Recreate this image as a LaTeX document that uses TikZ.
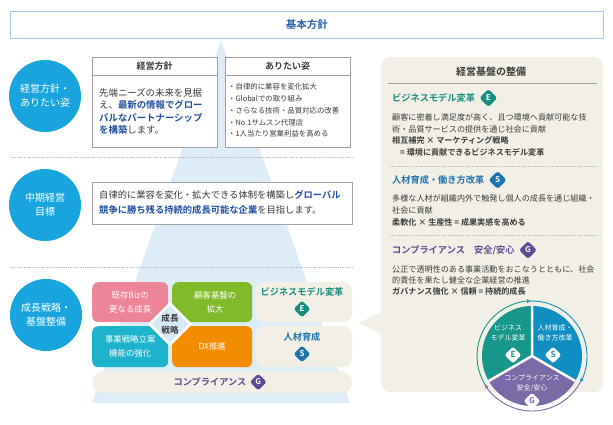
\documentclass[tikz,border=0pt]{standalone}
\usepackage{fontspec}
\setmainfont{Noto Sans CJK JP}[BoldFont={Noto Sans CJK JP Bold}]
\usetikzlibrary{arrows.meta,positioning,shapes.geometric}
\definecolor{ktext}{HTML}{3A3A3A}
\definecolor{kblue}{HTML}{2A62AC}
\definecolor{kframe}{HTML}{A9C8E8}
\definecolor{kcyan}{HTML}{18A4DD}
\definecolor{ktri}{HTML}{DCEDF8}
\definecolor{kgray}{HTML}{A0A0A0}
\definecolor{kemph}{HTML}{1F50A0}
\definecolor{kbeige}{HTML}{F2EFE6}
\definecolor{kpink}{HTML}{EC8597}
\definecolor{kgreen}{HTML}{80BB2A}
\definecolor{kaqua}{HTML}{1CB4CB}
\definecolor{korange}{HTML}{F28D00}
\definecolor{kcore}{HTML}{D6EAF6}
\definecolor{ke}{HTML}{178D82}
\definecolor{ks}{HTML}{1C74AD}
\definecolor{kg}{HTML}{5B4B90}
\definecolor{pe}{HTML}{17978B}
\definecolor{ps}{HTML}{0F8FC1}
\definecolor{pg}{HTML}{7A6AA7}
\newcommand{\kem}[1]{\textcolor{kemph}{\textbf{#1}}}

\begin{document}
\begin{tikzpicture}[x=1pt,y=-1pt,
		lab/.style={inner sep=0pt,text=ktext,align=left,anchor=west,font=\fontsize{8.1}{11.4}\selectfont},
		circ/.style={circle,fill=kcyan,minimum size=72,inner sep=0pt,text=white,align=center,font=\fontsize{10}{14}\selectfont},
		wbox/.style={draw=kgray,fill=white,line width=0.7pt,inner sep=0pt,anchor=north west},
		tile/.style={rounded corners=6,inner sep=0pt,anchor=north west,text=white,align=center,font=\fontsize{8.4}{14}\selectfont},
		pill/.style={fill=kbeige,inner sep=0pt,anchor=north west},
		badge/.style={diamond,aspect=1,rounded corners=2.5,inner sep=0pt,minimum size=18,text=white,font=\fontsize{8}{8}\selectfont\bfseries},
		sect/.style={inner sep=0pt,anchor=west,font=\fontsize{9.2}{11}\selectfont\bfseries},
		sep/.style={kgray!70,densely dotted,line width=0.7pt},
		cyc/.style={line width=0.9pt,-{Latex[length=4pt,width=4pt]}}
		]
		\useasboundingbox (0,0) rectangle (613,424);
		
		% --- Pyramid behind the left part
		\fill[ktri] (221,40) -- (350,403) -- (92,403) -- cycle;
		
		% --- Top frame
		\node[draw=kframe,line width=0.9pt,fill=white,minimum width=593,minimum height=27,inner sep=0pt,anchor=north west] (kihon) at (10,11) {};
		\node[text=kblue,font=\fontsize{10.5}{12}\selectfont\bfseries,inner sep=0pt] (kihontxt) at (kihon.center) {基本方針};
		
		% --- Left circles
		\node[circ] (c1) at (45,96) {経営方針・\\ありたい姿};
		\node[circ] (c2) at (45,205) {中期経営\\目標};
		\node[circ] (c3) at (46,315) {成長戦略・\\基盤整備};
		
		\draw[sep] (10,157) -- (352,157);
		\draw[sep] (10,267) -- (352,267);
		
		% --- Row 1
		\node[wbox,minimum width=125,minimum height=90] (hoshin) at (92,57) {};
		\node[wbox,minimum width=125,minimum height=90] (sugata) at (225,57) {};
		\draw[kgray,line width=0.7pt] ([yshift=-18pt]hoshin.north west) -- ([yshift=-18pt]hoshin.north east);
		\draw[kgray,line width=0.7pt] ([yshift=-18pt]sugata.north west) -- ([yshift=-18pt]sugata.north east);
		\node[text=ktext,font=\fontsize{9}{10}\selectfont\bfseries,inner sep=0pt] (hoshinhd) at (154.5,66) {経営方針};
		\node[text=ktext,font=\fontsize{9}{10}\selectfont\bfseries,inner sep=0pt] (sugatahd) at (287.5,66) {ありたい姿};
		\node[lab,font=\fontsize{9.4}{12.4}\selectfont] (hoshintxt) at (99,111.5) {先端ニーズの未来を見据\\え、\kem{最新の情報でグロー}\\\kem{バルなパートナーシップ}\\\kem{を構築}します。};
		\node[lab,font=\fontsize{7.4}{11.8}\selectfont] (sugatatxt) at (228,110.5) {・自律的に業容を変化拡大\\・Globalでの取り組み\\・さらなる技術・品質対応の改善\\・No.1サムスン代理店\\・1人当たり営業利益を高める};
		
		% --- Row 2
		\node[wbox,minimum width=260,minimum height=42] (mokuhyo) at (92,182) {};
		\node[lab,font=\fontsize{9.3}{15}\selectfont] (mokuhyotxt) at (99,202.5) {自律的に業容を変化・拡大できる体制を構築し\kem{グローバル}\\\kem{競争に勝ち残る持続的成長可能な企業}を目指します。};
		
		% --- Row 3: growth strategy tiles
		\node[tile,fill=kpink,minimum width=76,minimum height=40] (kison) at (92,282) {既存Bizの\\更なる成長};
		\node[tile,fill=kgreen,minimum width=80,minimum height=40] (kokyaku) at (172,282) {\hspace{6pt}顧客基盤の\\\hspace{6pt}拡大};
		\node[tile,fill=kaqua,minimum width=76,minimum height=41] (jigyo) at (92,326) {事業戦略立案\\機能の強化};
		\node[tile,fill=korange,minimum width=80,minimum height=41] (dx) at (172,326) {DX推進};
		\node[diamond,aspect=1,fill=kcore,draw=white,line width=2.5pt,minimum size=42,inner sep=0pt,align=center,text=ktext,font=\fontsize{8.6}{12}\selectfont\bfseries] (core) at (170,324) {成長\\戦略};
		
		\node[pill,rounded corners=9,minimum width=97,minimum height=40] (bm) at (255,282) {};
		\node[pill,rounded corners=9,minimum width=97,minimum height=41] (jinzai) at (255,326) {};
		\node[pill,rounded corners=11,minimum width=260,minimum height=22] (comp) at (92,371) {};
		\node[sect,anchor=center,text=ke] (bmtxt) at (302,292) {ビジネスモデル変革};
		\node[badge,fill=ke,minimum size=17] (bmb) at (302,309) {E};
		\node[sect,anchor=center,text=ks] (jinzaitxt) at (302,337) {人材育成};
		\node[badge,fill=ks,minimum size=17] (jinzaib) at (302,354) {S};
		\node[sect,anchor=center,text=kg] (comptxt) at (210,382) {コンプライアンス};
		\node[badge,fill=kg,minimum size=17,right=3pt of comptxt] (compb) {G};
		
		% --- Right panel
		\node[pill,rounded corners=9,minimum width=222,minimum height=335] (panel) at (381,57) {};
		\coordinate (tip) at (358,323);
		\fill[kbeige] (tip) -- (382,312) -- (382,334) -- cycle;
		\node[text=ktext,font=\fontsize{10}{12}\selectfont\bfseries,inner sep=0pt] (paneltxt) at (491,72) {経営基盤の整備};
		\draw[kgray,line width=0.9pt] (388,83) -- (597,83);
		
		\node[sect,text=ke] (ehd) at (392,98) {ビジネスモデル変革};
		\node[badge,fill=ke,right=4pt of ehd] (eb) {E};
		\node[lab] (etxt) at (392,135) {顧客に密着し満足度が高く、且つ環境へ貢献可能な技\\術・品質サービスの提供を通じ社会に貢献\\\textbf{相互補完 × マーケティング戦略}\\\hspace{8pt}\textbf{= 環境に貢献できるビジネスモデル変革}};
		\draw[sep] (390,166) -- (597,166);
		
		\node[sect,text=ks] (shd) at (392,180) {人材育成・働き方改革};
		\node[badge,fill=ks,right=4pt of shd] (sb) {S};
		\node[lab,font=\fontsize{8.1}{12}\selectfont] (stxt) at (392,210) {多様な人材が組織内外で触発し個人の成長を通じ組織・\\社会に貢献\\\textbf{柔軟化 × 生産性 = 成果実感を高める}};
		\draw[sep] (390,235) -- (597,235);
		
		\node[sect,text=kg] (ghd) at (392,250) {コンプライアンス\quad 安全/安心};
		\node[badge,fill=kg,right=4pt of ghd] (gb) {G};
		\node[lab,font=\fontsize{8.1}{11}\selectfont] (gtxt) at (392,280) {公正で透明性のある事業活動をおこなうとともに、社会\\的責任を果たし健全な企業経営の推進\\\textbf{ガバナンス強化 × 信頼 = 持続的成長}};
		
		% --- Cycle
		\begin{scope}[shift={(532,356)},y=1pt]
			\fill[pe] (0,0) -- (90:50) arc[start angle=90,end angle=210,radius=50] -- cycle;
			\fill[ps] (0,0) -- (-30:50) arc[start angle=-30,end angle=90,radius=50] -- cycle;
			\fill[pg] (0,0) -- (210:50) arc[start angle=210,end angle=330,radius=50] -- cycle;
			\draw[white,line width=2.5pt] (0,0) -- (90:50) (0,0) -- (210:50) (0,0) -- (-30:50);
			\draw[cyc,pe] (212:55) arc[start angle=212,end angle=91,radius=55];
			\draw[cyc,ps] (92:55) arc[start angle=92,end angle=-29,radius=55];
			\draw[cyc,pg] (-28:55) arc[start angle=-28,end angle=-149,radius=55];
			\node[text=white,align=center,font=\fontsize{7}{10}\selectfont] (pet) at (-24,23) {ビジネス\\モデル変革};
			\node[text=white,align=center,font=\fontsize{7}{10}\selectfont] (pst) at (23,23) {人材育成・\\働き方改革};
			\node[text=white,align=center,font=\fontsize{7}{10}\selectfont] (pgt) at (0,-27) {コンプライアンス\\安全/安心};
			\node[badge,fill=white,text=pe,minimum size=17] (peb) at (-19,1) {E};
			\node[badge,fill=white,text=ps,minimum size=17] (psb) at (21,1) {S};
			\node[badge,fill=white,text=pg,minimum size=17] (pgb) at (0,-45) {G};
		\end{scope}
		
	\end{tikzpicture}
\end{document}
